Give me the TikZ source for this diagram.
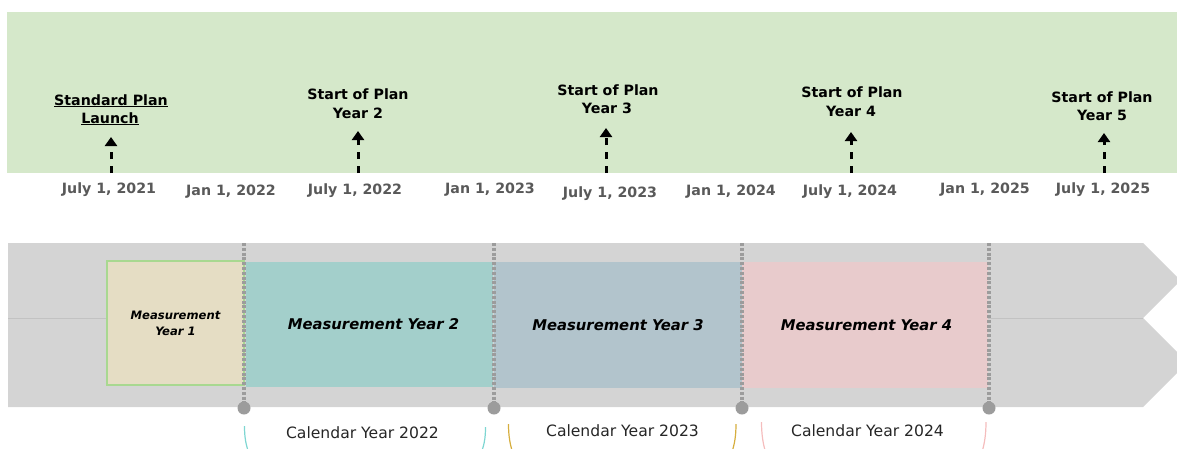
\documentclass[tikz,border=0pt]{standalone}
\usepackage{fontspec}
\setmainfont{DejaVu Sans}
\usetikzlibrary{arrows.meta}

\definecolor{bggreen}{HTML}{D5E8CA}
\definecolor{bandgray}{HTML}{D4D4D4}
\definecolor{seamgray}{HTML}{C2C2C2}
\definecolor{divcol}{HTML}{9C9C9C}
\definecolor{datecol}{HTML}{595959}
\definecolor{calcol}{HTML}{262626}
\definecolor{myone}{HTML}{E5DDC4}
\definecolor{myoneedge}{HTML}{A8D890}
\definecolor{mytwo}{HTML}{A3CFCB}
\definecolor{mythree}{HTML}{B2C4CC}
\definecolor{myfour}{HTML}{E8CBCC}
\definecolor{cyanbr}{HTML}{7ED6D2}
\definecolor{goldbr}{HTML}{D6AE3E}
\definecolor{pinkbr}{HTML}{F5BDBD}

\begin{document}
\begin{tikzpicture}[x=1pt,y=-1pt,
  lbl/.style={anchor=base, inner sep=0pt, font=\fontsize{14.2}{16}\selectfont\bfseries, text=black},
  datelbl/.style={anchor=base, inner sep=0pt, font=\fontsize{14.2}{16}\selectfont\bfseries, text=datecol},
  mbox/.style={draw=none, inner sep=0pt, align=center, font=\fontsize{14.8}{16}\selectfont\bfseries\itshape},
  callbl/.style={anchor=base, inner sep=0pt, font=\fontsize{15.6}{16}\selectfont, text=calcol},
  uparrow/.style={line width=3pt, dash pattern=on 7pt off 7pt, -{Triangle[width=12pt,length=9pt]}},
  divider/.style={line width=3.4pt, draw=divcol, dash pattern=on 3pt off 1.8pt},
  knob/.style={circle, fill=divcol, inner sep=0pt, minimum size=13pt},
  brace/.style={line width=1.2pt}
]
\useasboundingbox (0,0) rectangle (1177,448);
\clip (0,0) rectangle (1177,448);

% upper green field
\fill[bggreen] (7,12) rectangle (1177,173);

% grey double band with arrow ends
\fill[bandgray] (8,243) -- (1143,243) -- (1180.5,280.5) -- (1143,318) -- (8,318) -- cycle;
\fill[bandgray] (8,318) -- (1143,318) -- (1187.5,362.5) -- (1143,407) -- (8,407) -- cycle;
\draw[seamgray, line width=0.6pt] (8,318) -- (1143,318);

% measurement years
\node[mbox, fill=myone, draw=myoneedge, line width=1.2pt, minimum width=137pt, minimum height=124pt,
      font=\fontsize{11.6}{16}\selectfont\bfseries\itshape] (m1) at (175.5,323) {Measurement\\Year 1};
\node[mbox, fill=mytwo, minimum width=247pt, minimum height=125pt] (m2) at (369.5,324.5) {\hspace*{8pt}Measurement Year 2};
\node[mbox, fill=mythree, minimum width=248pt, minimum height=126pt] (m3) at (618,325) {Measurement Year 3};
\node[mbox, fill=myfour, minimum width=246pt, minimum height=126pt] (m4) at (865,325) {\hspace*{3pt}Measurement Year 4};

% dotted year boundaries ending in knobs
\foreach \i/\x in {1/244,2/494,3/742,4/989}{
  \coordinate (dtop\i) at (\x,243);
  \node[knob] (k\i) at (\x,408) {};
  \draw[divider] (dtop\i) -- (k\i.center);
}

% milestone labels
\node[lbl] (s1a) at (111,105) {\underline{Standard Plan}};
\node[lbl] (s1b) at (110,123) {\underline{Launch}};
\node[lbl] (s2a) at (358,99) {Start of Plan};
\node[lbl] (s2b) at (358,118) {Year 2};
\node[lbl] (s3a) at (608,95) {Start of Plan};
\node[lbl] (s3b) at (607,113) {Year 3};
\node[lbl] (s4a) at (852,97) {Start of Plan};
\node[lbl] (s4b) at (851,116) {Year 4};
\node[lbl] (s5a) at (1102,102) {Start of Plan};
\node[lbl] (s5b) at (1102,120) {Year 5};

% dashed arrows rising from the field edge
\foreach \i/\x/\t in {1/111/137,2/358/131,3/606/128,4/851/132,5/1104/133}{
  \coordinate (g\i) at (\x,173);
  \coordinate (t\i) at (\x,\t);
  \draw[uparrow] (g\i) -- (t\i);
}

% dates
\node[datelbl] (d1) at (109,193) {July 1, 2021};
\node[datelbl] (d2) at (231,195) {Jan 1, 2022};
\node[datelbl] (d3) at (355,194) {July 1, 2022};
\node[datelbl] (d4) at (490,193) {Jan 1, 2023};
\node[datelbl] (d5) at (610,197) {July 1, 2023};
\node[datelbl] (d6) at (731,195) {Jan 1, 2024};
\node[datelbl] (d7) at (850,195) {July 1, 2024};
\node[datelbl] (d8) at (985,193) {Jan 1, 2025};
\node[datelbl] (d9) at (1103,193) {July 1, 2025};

% calendar years with braces below
\node[callbl] (c1) at (362.5,438) {Calendar Year 2022};
\node[callbl] (c2) at (622.5,436) {Calendar Year 2023};
\node[callbl] (c3) at (867.5,436) {Calendar Year 2024};

\draw[brace, cyanbr] (244.5,426) .. controls (244.5,438) and (246,446) .. (250,456);
\draw[brace, cyanbr] (485.5,427) .. controls (485.5,439) and (484,446) .. (480,456);
\draw[brace, goldbr] (508.5,424) .. controls (508.5,436) and (510,446) .. (514,456);
\draw[brace, goldbr] (736,424) .. controls (736,436) and (734.5,446) .. (730.5,456);
\draw[brace, pinkbr] (761.5,422) .. controls (761.5,434) and (763,446) .. (767,456);
\draw[brace, pinkbr] (986,422) .. controls (986,434) and (984.5,446) .. (980.5,456);
\end{tikzpicture}
\end{document}
